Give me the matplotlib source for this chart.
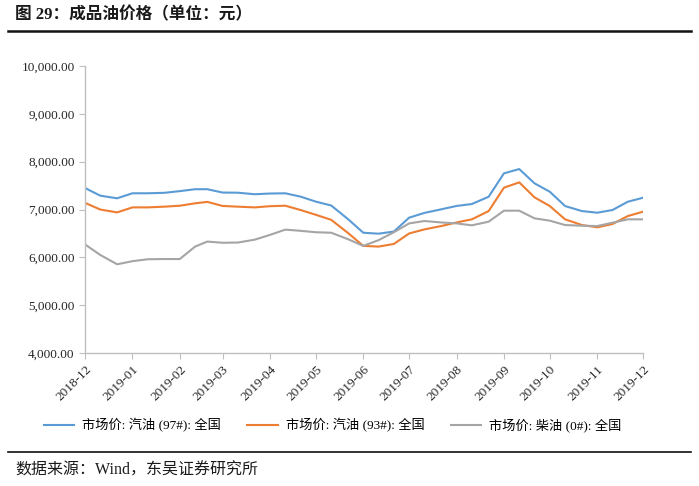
import matplotlib
matplotlib.use("Agg")
import matplotlib.pyplot as plt
import matplotlib.dates as mdates
from matplotlib.ticker import FuncFormatter
import pandas as pd

# 10-day (旬) observations, Dec 2018 - Dec 2019
dates = [
    "2018-12-10", "2018-12-20", "2018-12-31",
    "2019-01-10", "2019-01-20", "2019-01-31",
    "2019-02-10", "2019-02-20", "2019-02-28",
    "2019-03-10", "2019-03-20", "2019-03-31",
    "2019-04-10", "2019-04-20", "2019-04-30",
    "2019-05-10", "2019-05-20", "2019-05-31",
    "2019-06-10", "2019-06-20", "2019-06-30",
    "2019-07-10", "2019-07-20", "2019-07-31",
    "2019-08-10", "2019-08-20", "2019-08-31",
    "2019-09-10", "2019-09-20", "2019-09-30",
    "2019-10-10", "2019-10-20", "2019-10-31",
    "2019-11-10", "2019-11-20", "2019-11-30",
    "2019-12-10",
]
gas97 = [7450, 7290, 7235, 7340, 7340, 7350, 7385, 7425, 7425,
         7355, 7352, 7320, 7335, 7340, 7270, 7165, 7085, 6800,
         6515, 6495, 6540, 6830, 6930, 7005, 7075, 7115, 7268,
         7757, 7847, 7548, 7372, 7073, 6968, 6934, 6990, 7163, 7247]
gas93 = [7140, 7000, 6940, 7045, 7045, 7060, 7080, 7130, 7160,
         7075, 7060, 7045, 7070, 7080, 6990, 6890, 6785, 6510,
         6240, 6225, 6280, 6500, 6585, 6655, 6730, 6795, 6968,
         7457, 7568, 7255, 7073, 6795, 6676, 6628, 6697, 6864, 6955]
diesel0 = [6270, 6050, 5855, 5920, 5960, 5965, 5965, 6225, 6330,
           6305, 6310, 6370, 6470, 6580, 6555, 6525, 6515, 6380,
           6240, 6360, 6525, 6710, 6760, 6730, 6710, 6670, 6746,
           6976, 6976, 6816, 6767, 6676, 6662, 6655, 6725, 6795, 6795]

labels = ["市场价: 汽油 (97#): 全国", "市场价: 汽油 (93#): 全国", "市场价: 柴油 (0#): 全国"]
colors = ["#5B9BD5", "#ED7D31", "#A5A5A5"]

x = pd.to_datetime(dates)
serif_cjk = ["Liberation Serif", "Noto Sans CJK SC"]

fig = plt.figure(figsize=(6.99, 4.86), dpi=100)
ax = fig.add_axes([0.1216, 0.2737, 0.7984, 0.5903])

for vals, lab, col in zip([gas97, gas93, diesel0], labels, colors):
    ax.plot(x, vals, color=col, lw=1.5, label=lab)

ax.set_ylim(4000, 10000)
ax.set_yticks(range(4000, 10001, 1000))
ax.yaxis.set_major_formatter(FuncFormatter(lambda v, p: f"{v:,.2f}"))
ax.set_xlim(x[0], x[-1])
ax.xaxis.set_major_locator(mdates.MonthLocator(bymonthday=10))
ax.xaxis.set_major_formatter(mdates.DateFormatter("%Y-%m"))

for s in ["top", "right"]:
    ax.spines[s].set_visible(False)
for s in ["left", "bottom"]:
    ax.spines[s].set_color("#BFBFBF")
    ax.spines[s].set_linewidth(1.0)
ax.tick_params(axis="both", colors="#BFBFBF", length=4, labelcolor="#262626")
for t in ax.get_yticklabels():
    t.set_family("Liberation Serif")
    t.set_fontsize(9.5)
for t in ax.get_xticklabels():
    t.set_family("Liberation Serif")
    t.set_fontsize(9.5)
    t.set_rotation(45)
    t.set_ha("right")
    t.set_rotation_mode("anchor")

fig.legend(loc="center", bbox_to_anchor=(0.476, 0.125), ncol=3, frameon=False,
           handlelength=2.3, columnspacing=2.0, handletextpad=0.6,
           prop={"family": serif_cjk, "size": 9.5})

# title and rules
fig.text(0.022, 0.968, "图 29：成品油价格（单位：元）", family=serif_cjk,
         fontsize=12, fontweight="bold", color="#1a1a1a", va="center")
fig.add_artist(plt.Line2D([0.011, 0.988], [0.936, 0.936], color="#111111", lw=1.8))
fig.add_artist(plt.Line2D([0.011, 0.988], [0.07, 0.07], color="#111111", lw=1.2))
fig.text(0.022, 0.032, "数据来源：Wind，东吴证券研究所", family=serif_cjk,
         fontsize=11.5, color="#1a1a1a", va="center")

fig.savefig("out.png", dpi=100)
